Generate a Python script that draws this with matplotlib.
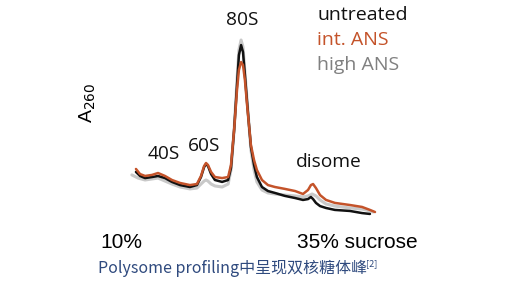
import numpy as np
import matplotlib.pyplot as plt

# position along gradient (0 = top 10%, 100 = bottom 35%) and A260 (arb. units)
x_orange = [0.4, 2.1, 4.2, 7.1, 9.6, 12.5, 15.4, 18.8, 22.9, 25.8, 27.5, 28.8, 29.6, 30.4,
            31.7, 33.3, 36.3, 38.8, 40.0, 41.3, 42.5, 43.3, 44.2, 45.0, 45.8, 46.7, 47.5,
            48.3, 49.6, 50.8, 52.9, 55.4, 58.3, 62.5, 66.7, 70.0, 72.1, 73.3, 74.2, 75.4,
            77.1, 79.6, 83.3, 89.6, 94.6, 97.9, 100.0]
a_orange = [0.263, 0.234, 0.223, 0.229, 0.240, 0.223, 0.200, 0.183, 0.171, 0.177, 0.223,
            0.280, 0.297, 0.286, 0.246, 0.217, 0.211, 0.217, 0.286, 0.486, 0.714, 0.829,
            0.874, 0.857, 0.771, 0.629, 0.514, 0.400, 0.314, 0.257, 0.200, 0.171, 0.160,
            0.149, 0.137, 0.120, 0.143, 0.171, 0.177, 0.154, 0.114, 0.086, 0.069, 0.057,
            0.046, 0.029, 0.017]

a_black = [0.246, 0.223, 0.211, 0.217, 0.223, 0.211, 0.189, 0.171, 0.160, 0.171, 0.217,
           0.274, 0.291, 0.280, 0.234, 0.200, 0.189, 0.200, 0.269, 0.486, 0.743, 0.914,
           0.971, 0.931, 0.800, 0.646, 0.514, 0.389, 0.286, 0.217, 0.160, 0.137, 0.126,
           0.109, 0.097, 0.086, 0.091, 0.103, 0.091, 0.069, 0.051, 0.040, 0.029, 0.023,
           0.011, 0.006]
x_black = x_orange[:len(a_black)]

x_gray = [-1.3, 1.3, 4.2, 7.1, 9.6, 12.5, 15.4, 18.8, 22.9, 25.8, 27.5, 28.8, 29.6, 30.4,
          31.7, 33.3, 36.3, 38.8, 40.0, 41.3, 42.5, 43.3, 44.2, 45.0, 45.8, 46.7, 47.5,
          48.3, 49.6, 50.8, 52.9, 55.4, 58.3, 62.5, 66.7, 70.0, 72.1, 73.8, 75.4, 77.1,
          79.6, 83.3, 89.6, 94.6, 97.9, 99.2]
a_gray = [0.229, 0.211, 0.200, 0.206, 0.211, 0.194, 0.177, 0.160, 0.149, 0.154, 0.177,
          0.194, 0.200, 0.194, 0.177, 0.166, 0.160, 0.177, 0.257, 0.486, 0.771, 0.943,
          1.000, 0.960, 0.817, 0.657, 0.514, 0.371, 0.257, 0.189, 0.143, 0.126, 0.120,
          0.114, 0.109, 0.103, 0.109, 0.120, 0.109, 0.086, 0.063, 0.051, 0.040, 0.034,
          0.023, 0.017]

labels = ['untreated', 'int. ANS', 'high ANS']
label_colors = ['#111111', '#c4532a', '#808080']
peaks = ['40S', '60S', '80S', 'disome']

fig = plt.figure(figsize=(5.11, 2.90), dpi=100)
ax = fig.add_axes([0, 0, 1, 1])
ax.set_xlim(-56.25, 156.67)
ax.set_ylim(-0.4286, 1.2286)
ax.axis('off')

ax.plot(x_gray, a_gray, color='#c9c9c9', lw=2.2, solid_capstyle='round')
ax.plot(x_black, a_black, color='#111111', lw=1.8, solid_capstyle='round')
ax.plot(x_orange, a_orange, color='#c4532a', lw=1.8, solid_capstyle='round')

hf = 'Open Sans'
for i, (lab, col) in enumerate(zip(labels, label_colors)):
    fig.text(317 / 511, 1 - (15 + i * 25) / 290, lab, color=col, fontsize=14,
             family=hf, va='center', ha='left')

peak_pos = [(164, 154), (204, 146), (242, 20), (329, 162)]
for p, (px, py) in zip(peaks, peak_pos):
    fig.text(px / 511, 1 - py / 290, p, fontsize=13.8, family=hf,
             ha='center', va='center', color='#111111')

fig.text(88 / 511, 1 - 103 / 290, r'A$_{260}$', rotation=90, fontsize=14,
         family='Liberation Sans', ha='center', va='center')

fig.text(100 / 511, 1 - 242 / 290, '10%', fontsize=15, family='Liberation Sans',
         ha='left', va='center')
fig.text(297 / 511, 1 - 242 / 290, '35% sucrose', fontsize=15,
         family='Liberation Sans', ha='left', va='center')

fig.text(98 / 511, 1 - 268 / 290, 'Polysome profiling中呈现双核糖体峰',
         fontsize=11.5, family=['Noto Sans CJK SC', 'DejaVu Sans'],
         color='#2f4a7e', ha='left', va='center')
fig.text(366 / 511, 1 - 264 / 290, '[2]', fontsize=6.5,
         family=['Noto Sans CJK SC', 'DejaVu Sans'],
         color='#2f4a7e', ha='left', va='center')

fig.savefig('out.png', dpi=100)
